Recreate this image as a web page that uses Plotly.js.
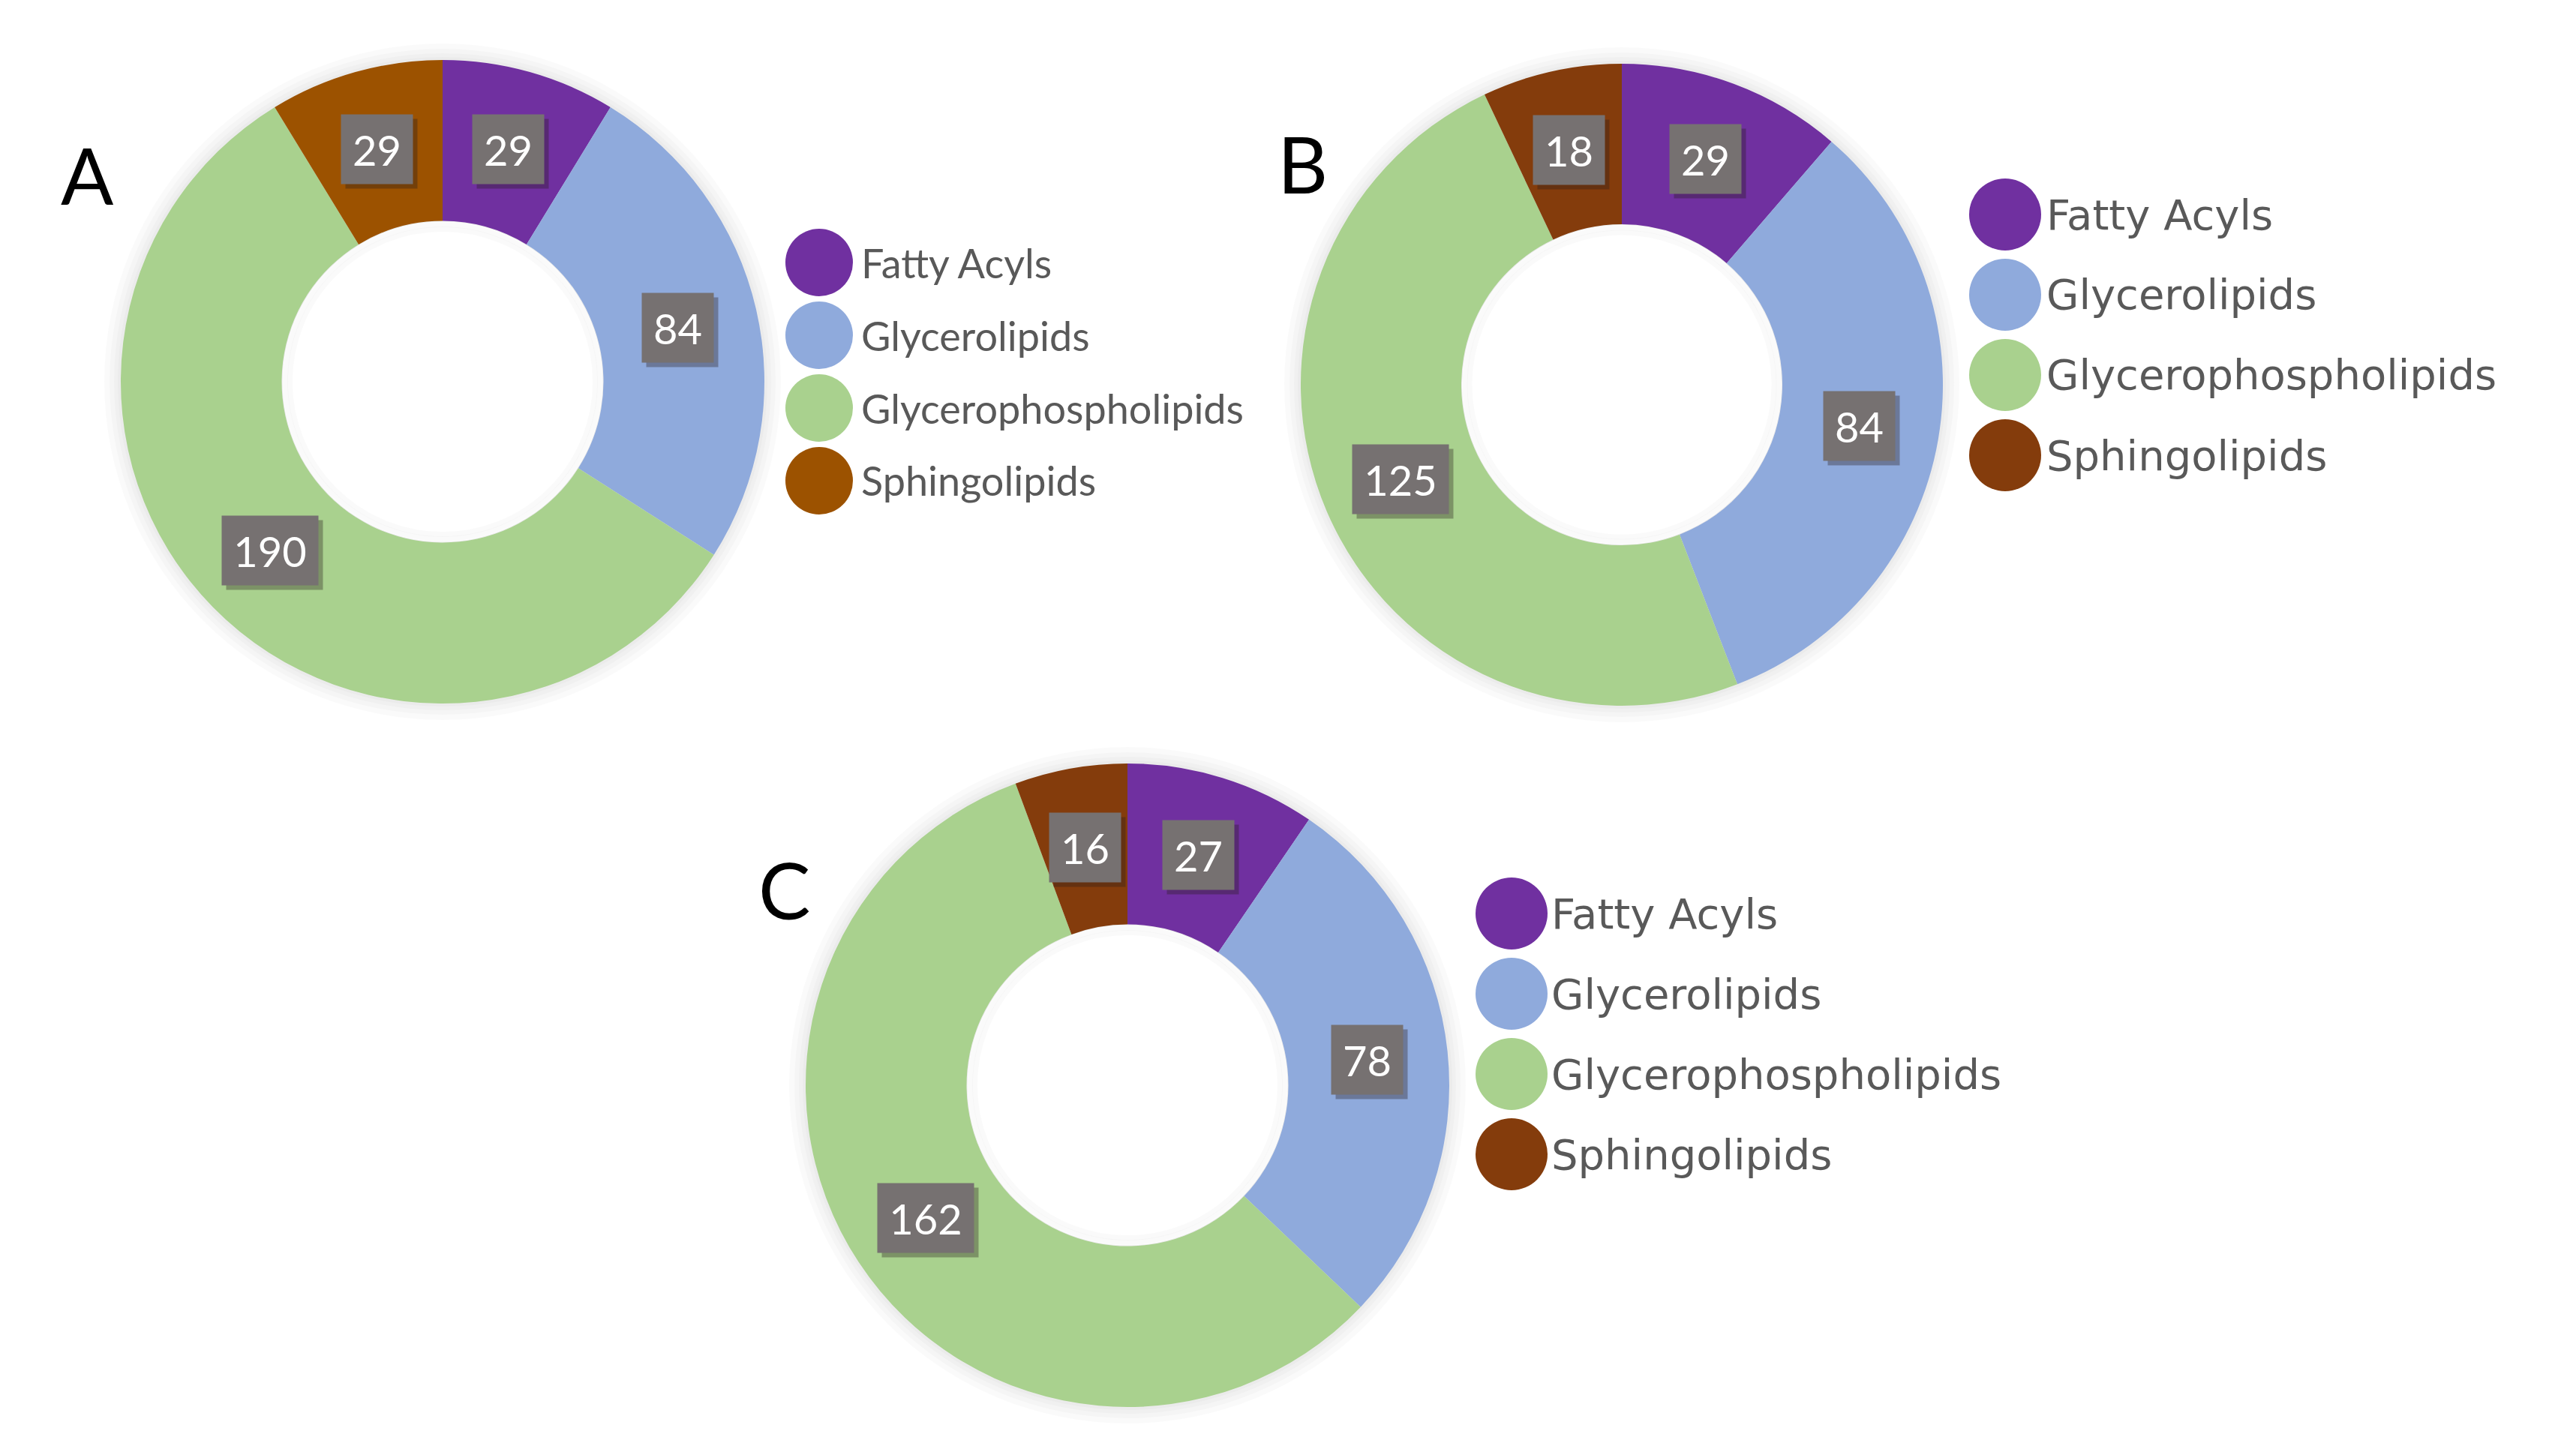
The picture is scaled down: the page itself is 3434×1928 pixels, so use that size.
<!DOCTYPE html>
<html>
<head>
<meta charset="utf-8">
<script src="https://cdn.plot.ly/plotly-3.0.1.min.js"></script>
<style>html,body{margin:0;padding:0;background:#fff;}#chart{width:3434px;height:1928px;}</style>
</head>
<body>
<div id="chart"></div>
<script>
// ---- data ----
const categories = ['Fatty Acyls', 'Glycerolipids', 'Glycerophospholipids', 'Sphingolipids'];
const valuesA = [29, 84, 190, 29];
const valuesB = [29, 84, 125, 18];
const valuesC = [27, 78, 162, 16];
const panelNames = ['A', 'B', 'C'];
const colorsA = ['#7030A0', '#8FAADC', '#A9D18E', '#9C5200'];
const colorsBC = ['#7030A0', '#8FAADC', '#A9D18E', '#843C0C'];

// ---- layout geometry (pixels) ----
const W = 3434, H = 1928;
const panels = [
  {name: panelNames[0], values: valuesA, colors: colorsA, cx: 590, cy: 509, R: 429,
   lab: [116, 232], legX: 1092, legY: 350, legDy: 97, legR: 45, legTextX: 1146,
   legFont: 'Lato, sans-serif', legSize: 54},
  {name: panelNames[1], values: valuesB, colors: colorsBC, cx: 2162, cy: 513, R: 428,
   lab: [1737, 217], legX: 2673, legY: 286, legDy: 107, legR: 48, legTextX: 2726,
   legFont: '"DejaVu Sans", sans-serif', legSize: 56},
  {name: panelNames[2], values: valuesC, colors: colorsBC, cx: 1503, cy: 1447, R: 429,
   lab: [1045, 1185], legX: 2015, legY: 1218, legDy: 107, legR: 48, legTextX: 2066,
   legFont: '"DejaVu Sans", sans-serif', legSize: 56}
];
const HOLE = 0.5;

const px = x => x / W;
const py = y => 1 - y / H;

const traces = [];
const annotations = [];
const shapes = [];

panels.forEach(p => {
  traces.push({
    type: 'pie',
    labels: categories,
    values: p.values,
    hole: HOLE,
    sort: false,
    direction: 'clockwise',
    rotation: 0,
    textinfo: 'none',
    marker: {colors: p.colors, line: {width: 0}},
    showlegend: false,
    domain: {x: [px(p.cx - p.R), px(p.cx + p.R)], y: [py(p.cy + p.R), py(p.cy - p.R)]}
  });

  // soft outer glow
  [22, 15, 9, 4].forEach(d => {
    shapes.push({type: 'circle', xref: 'paper', yref: 'paper', layer: 'below',
      x0: px(p.cx - p.R - d), x1: px(p.cx + p.R + d),
      y0: py(p.cy + p.R + d), y1: py(p.cy - p.R - d),
      fillcolor: 'rgba(0,0,0,0.02)', line: {width: 0}});
  });
  // white hole
  const rh = p.R * HOLE;
  shapes.push({type: 'circle', xref: 'paper', yref: 'paper', layer: 'above',
    x0: px(p.cx - rh + 1), x1: px(p.cx + rh - 1), y0: py(p.cy + rh - 1), y1: py(p.cy - rh + 1),
    fillcolor: '#ffffff', line: {width: 0}});
  // soft inner shadow in hole
  [5, 11].forEach(d => {
    const r = rh - d;
    shapes.push({type: 'circle', xref: 'paper', yref: 'paper', layer: 'above',
      x0: px(p.cx - r), x1: px(p.cx + r), y0: py(p.cy + r), y1: py(p.cy - r),
      fillcolor: 'rgba(0,0,0,0)', line: {width: 7, color: 'rgba(0,0,0,0.018)'}});
  });

  // value labels at the middle of each slice
  const total = p.values.reduce((a, b) => a + b, 0);
  let cum = 0;
  const rMid = p.R * (1 + HOLE) / 2;
  p.values.forEach((v, i) => {
    const mid = (cum + v / 2) / total * 2 * Math.PI;
    cum += v;
    const x = p.cx + rMid * Math.sin(mid);
    const y = p.cy - rMid * Math.cos(mid);
    const txt = String(v);
    const w = 33 * txt.length + 29;
    // shadow
    annotations.push({xref: 'paper', yref: 'paper', x: px(x), y: py(y), xanchor: 'center', yanchor: 'middle',
      xshift: 6, yshift: -6,
      text: txt, showarrow: false, width: w, height: 92, borderpad: 0,
      bgcolor: 'rgba(40,30,30,0.35)', font: {family: 'Lato, sans-serif', size: 56, color: 'rgba(0,0,0,0)'}});
    annotations.push({xref: 'paper', yref: 'paper', x: px(x), y: py(y), xanchor: 'center', yanchor: 'middle',
      text: txt, showarrow: false, width: w, height: 92, borderpad: 0,
      bgcolor: '#767171', font: {family: 'Lato, sans-serif', size: 56, color: '#ffffff'}});
  });

  // legend
  categories.forEach((c, i) => {
    const y = p.legY + i * p.legDy;
    shapes.push({type: 'circle', xref: 'paper', yref: 'paper', xsizemode: 'pixel', ysizemode: 'pixel',
      xanchor: px(p.legX), yanchor: py(y), x0: -p.legR, x1: p.legR, y0: -p.legR, y1: p.legR,
      fillcolor: p.colors[i], line: {width: 0}});
    annotations.push({xref: 'paper', yref: 'paper', x: px(p.legTextX), y: py(y), xanchor: 'left', yanchor: 'middle',
      text: c, showarrow: false, font: {family: p.legFont, size: p.legSize, color: '#595959'}});
  });

  // panel letter
  annotations.push({xref: 'paper', yref: 'paper', x: px(p.lab[0]), y: py(p.lab[1]), xanchor: 'center', yanchor: 'middle',
    text: p.name, showarrow: false, font: {family: 'Lato, sans-serif', size: 104, color: '#000000'}});
});

const layout = {
  width: W, height: H,
  margin: {l: 0, r: 0, t: 0, b: 0},
  paper_bgcolor: '#ffffff',
  showlegend: false,
  annotations: annotations,
  shapes: shapes
};

Plotly.newPlot('chart', traces, layout, {displayModeBar: false, staticPlot: true});
</script>
</body>
</html>
